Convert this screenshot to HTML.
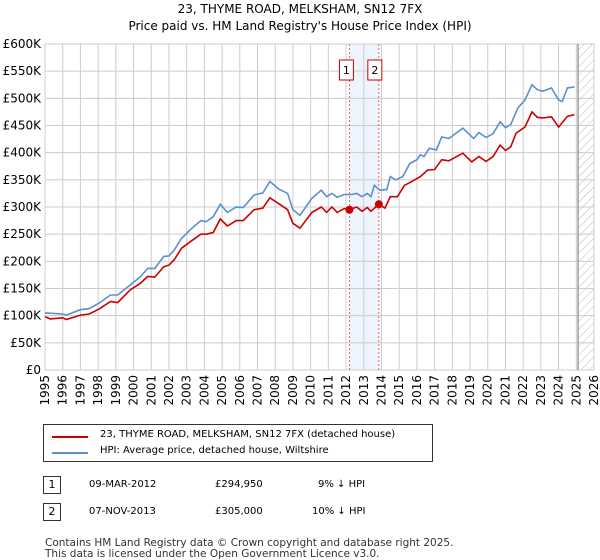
<!DOCTYPE html>
<html><head><meta charset="utf-8"><style>
body{margin:0;background:#fff;font-family:"DejaVu Sans","Liberation Sans",sans-serif;}
#wrap{position:relative;width:600px;height:560px;overflow:hidden}
.t{position:absolute;font-size:12px;color:#000;white-space:nowrap}
</style></head><body><div id="wrap">
<div class="t" style="left:0;width:600px;text-align:center;top:2px;font-size:12px">23, THYME ROAD, MELKSHAM, SN12 7FX</div>
<div class="t" style="left:0;width:600px;text-align:center;top:19px;font-size:12px">Price paid vs. HM Land Registry's House Price Index (HPI)</div>
<svg id="c" width="600" height="420" style="position:absolute;left:0;top:0;font-family:'DejaVu Sans',sans-serif"></svg>
<div style="position:absolute;left:43px;top:424px;width:390px;height:38px;border:1px solid #333;box-sizing:border-box">
 <div style="position:absolute;left:8px;top:11px;width:36px;height:2px;background:#cc0000"></div>
 <div class="t" style="left:56px;top:4px;font-size:10px">23, THYME ROAD, MELKSHAM, SN12 7FX (detached house)</div>
 <div style="position:absolute;left:8px;top:27px;width:36px;height:2px;background:#5b8fd0"></div>
 <div class="t" style="left:56px;top:20px;font-size:10px">HPI: Average price, detached house, Wiltshire</div>
</div>
<div style="position:absolute;left:43px;top:476px;width:18px;height:18px;border:1px solid #333;box-sizing:border-box;font-size:11px;text-align:center;line-height:16px">1</div>
<div class="t" style="left:89px;top:479px;font-size:10px">09-MAR-2012</div>
<div class="t" style="left:215px;top:479px;font-size:10px">£294,950</div>
<div class="t" style="left:318px;top:479px;font-size:10px">9% ↓ HPI</div>
<div style="position:absolute;left:43px;top:503px;width:18px;height:18px;border:1px solid #333;box-sizing:border-box;font-size:11px;text-align:center;line-height:16px">2</div>
<div class="t" style="left:89px;top:506px;font-size:10px">07-NOV-2013</div>
<div class="t" style="left:215px;top:506px;font-size:10px">£305,000</div>
<div class="t" style="left:312px;top:506px;font-size:10px">10% ↓ HPI</div>
<div class="t" style="left:45px;top:537px;font-size:10.5px;color:#333">Contains HM Land Registry data © Crown copyright and database right 2025.</div>
<div class="t" style="left:45px;top:548px;font-size:10.5px;color:#333">This data is licensed under the Open Government Licence v3.0.</div>
</div>
<script>
const hpiYears=[1995,1996,1996.2,1997,1997.5,1998.1,1998.7,1999.1,1999.8,2000.4,2000.8,2001.2,2001.7,2002,2002.3,2002.7,2003.2,2003.8,2004.1,2004.5,2004.9,2005.3,2005.8,2006.2,2006.8,2007.3,2007.7,2008.2,2008.7,2009,2009.4,2010.07,2010.6,2010.9,2011.2,2011.5,2011.9,2012.3,2012.6,2012.9,2013.2,2013.4,2013.6,2013.9,2014.3,2014.5,2014.8,2015.2,2015.6,2016,2016.2,2016.4,2016.7,2017.1,2017.4,2017.8,2018.6,2019.2,2019.5,2019.9,2020.3,2020.7,2021,2021.3,2021.7,2022.1,2022.5,2022.8,2023.1,2023.6,2024,2024.2,2024.5,2024.9];
const hpiValues=[105,103,101,111,113,124,138,138,156,172,187,187,209,210,221,242,258,275,273,282,305,290,300,299,322,326,347,333,325,295,285,316,331,319,325,318,323,323,325,319,325,319,340,331,332,356,350,356,380,387,396,393,408,405,429,426,445,426,437,428,435,457,446,452,482,497,525,516,513,519,497,494,519,521];
const ppYears=[1995,1995.3,1996,1996.2,1997,1997.5,1998.1,1998.7,1999.1,1999.8,2000.4,2000.8,2001.2,2001.7,2002,2002.3,2002.7,2003.2,2003.8,2004.1,2004.5,2004.9,2005.3,2005.8,2006.2,2006.8,2007.3,2007.7,2008.2,2008.7,2009,2009.4,2010.07,2010.6,2010.9,2011.2,2011.5,2011.9,2012.19,2012.6,2012.9,2013.2,2013.4,2013.85,2014.2,2014.5,2014.9,2015.3,2015.6,2016.2,2016.6,2017,2017.4,2017.8,2018.6,2019.1,2019.5,2019.9,2020.3,2020.7,2021,2021.3,2021.6,2022.1,2022.5,2022.8,2023.1,2023.6,2024,2024.5,2024.9];
const ppValues=[98,94,96,93,101,103,113,126,124,147,160,172,171,190,193,203,224,236,250,250,253,278,265,275,275,295,298,317,306,295,270,261,290,300,290,300,290,297,294.95,300,292,299,292,305,298,319,319,340,345,356,368,369,387,385,399,383,393,384,393,414,404,411,436,447,475,465,464,466,447,467,470];
const sales=[[2012.19,294.95,"1"],[2013.85,305,"2"]];
const yTicks=[0,50,100,150,200,250,300,350,400,450,500,550,600];
const yLabels=["£0","£50K","£100K","£150K","£200K","£250K","£300K","£350K","£400K","£450K","£500K","£550K","£600K"];
const xTicks=[1995,1996,1997,1998,1999,2000,2001,2002,2003,2004,2005,2006,2007,2008,2009,2010,2011,2012,2013,2014,2015,2016,2017,2018,2019,2020,2021,2022,2023,2024,2025,2026];
const X0=45,X1=594,Y0=370,Y1=44,now=2025.1;
const sx=y=>X0+(y-1995)/(2026-1995)*(X1-X0);
const sy=v=>Y0-v/600*(Y0-Y1);
const s=document.getElementById('c'),NS="http://www.w3.org/2000/svg";
function el(t,a,n){const e=document.createElementNS(NS,t);for(const k in a)e.setAttribute(k,a[k]);s.appendChild(e);return e;}
const defs=el('defs',{},'defs');
defs.innerHTML='<pattern id="h" width="6" height="6" patternUnits="userSpaceOnUse" patternTransform="rotate(45)"><line x1="0" y1="0" x2="0" y2="6" stroke="#bbb" stroke-width="1"/></pattern>';
el('rect',{x:sx(sales[0][0]),y:Y1,width:sx(sales[1][0])-sx(sales[0][0]),height:Y0-Y1,fill:'#eef4fd'},'sale-shade');
el('rect',{x:sx(now),y:Y1,width:X1-sx(now),height:Y0-Y1,fill:'url(#h)'},'future-hatch');
yTicks.forEach((v,i)=>{el('line',{x1:X0,x2:X1,y1:sy(v),y2:sy(v),stroke:'#ccc'},'y-gridline');
 const t=el('text',{x:X0-4,y:sy(v)+4,'text-anchor':'end','font-size':12,fill:'#000'},'y-tick-label');t.textContent=yLabels[i];});
xTicks.forEach(y=>{el('line',{x1:sx(y),x2:sx(y),y1:Y1,y2:Y0,stroke:'#ccc'},'x-gridline');
 const t=el('text',{x:0,y:0,'text-anchor':'end','font-size':12,fill:'#000',transform:`translate(${sx(y)+4},${Y0+5}) rotate(-90)`},'x-tick-label');t.textContent=y;});
el('line',{x1:sx(now),x2:sx(now),y1:Y1,y2:Y0,stroke:'#888','stroke-width':1.2},'current-date-line');
sales.forEach(d=>el('line',{x1:sx(d[0]),x2:sx(d[0]),y1:Y1,y2:Y0,stroke:'#e06060','stroke-dasharray':'2,2'},'sale-marker-line'));
const pts=(xs,vs)=>xs.map((y,i)=>sx(y).toFixed(1)+','+sy(vs[i]).toFixed(1)).join(' ');
el('polyline',{points:pts(hpiYears,hpiValues),fill:'none',stroke:'#5b8fd0','stroke-width':1.6},'hpi-line');
el('polyline',{points:pts(ppYears,ppValues),fill:'none',stroke:'#cc0000','stroke-width':1.6},'price-paid-line');
sales.forEach((d,i)=>{el('circle',{cx:sx(d[0]),cy:sy(d[1]),r:4,fill:'#cc0000'},'sale-point-'+(i+1));
 const cx=sx(d[0])-3-i;
 el('rect',{x:cx-7,y:60,width:14,height:20,fill:'#fff',stroke:'#cc0000'},'sale-label-box-'+(i+1));
 const t=el('text',{x:cx,y:74,'text-anchor':'middle','font-size':11},'sale-label-'+(i+1));t.textContent=d[2];});
</script></body></html>
